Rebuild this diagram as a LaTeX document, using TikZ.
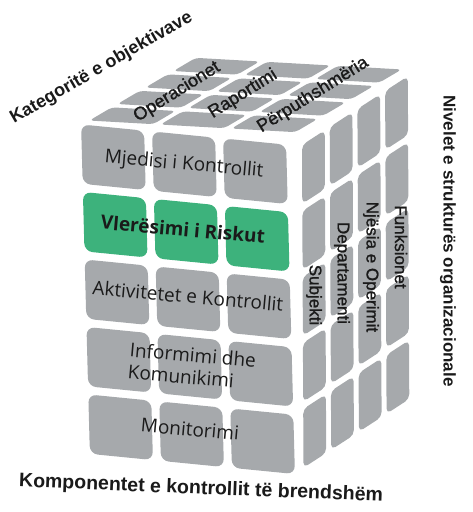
\documentclass[tikz,border=0pt]{standalone}
\usepackage{fontspec}
\setmainfont{Liberation Sans}
\newfontfamily\tilefont{Open Sans}
\newfontfamily\medfont[FakeBold=1.2]{Liberation Sans}
\definecolor{tilegray}{HTML}{A6A9AC}
\definecolor{tilegreen}{HTML}{3DB27C}
\definecolor{ink}{HTML}{1A1A1A}
\begin{document}
\begin{tikzpicture}[x=1pt,y=-1pt,
  fronttile/.style={fill=tilegray, rounded corners=8pt},
  greentile/.style={fill=tilegreen, rounded corners=8pt},
  toptile/.style={fill=tilegray, rounded corners=4pt},
  sidetile/.style={fill=tilegray, rounded corners=5pt},
  axislbl/.style={inner sep=0pt, text=ink, font=\bfseries\fontsize{18}{20}\selectfont},
  toplbl/.style={inner sep=0pt, text=ink, rotate=32, font=\medfont\fontsize{18}{20}\selectfont},
  sidelbl/.style={inner sep=0pt, text=ink, rotate=-90, font=\medfont\fontsize{17}{20}\selectfont},
  facelbl/.style={inner sep=0pt, text=ink, rotate=-5, align=left, font=\tilefont\fontsize{19}{22}\selectfont},
]
\useasboundingbox (0,0) rectangle (472,512);

% front face: 3 columns x 5 rows
\begin{scope}[shift={(77pt,-120pt)}, x={(71pt,-7pt)}, y={(1.8pt,-67.5pt)}]
  \foreach \j in {0,2,3,4} {
    \foreach \i in {0,1,2} {
      \fill[fronttile] (\i+0.056,\j+0.06) -- (\i+0.944,\j+0.06) -- (\i+0.944,\j+0.94) -- (\i+0.056,\j+0.94) -- cycle;
    }
  }
  \foreach \i in {0,1,2} {
    \fill[greentile] (\i+0.056,1.06) -- (\i+0.944,1.06) -- (\i+0.944,1.94) -- (\i+0.056,1.94) -- cycle;
  }
\end{scope}

% top face: 3 columns x 4 depth rows
\begin{scope}[shift={(83pt,-122pt)}, x={(71pt,-4pt)}, y={(28pt,16.5pt)}]
  \foreach \k in {0,1,2,3} {
    \foreach \i in {0,1,2} {
      \fill[toptile] (\i+0.05,\k+0.1) -- (\i+0.95,\k+0.1) -- (\i+0.95,\k+0.9) -- (\i+0.05,\k+0.9) -- cycle;
    }
  }
\end{scope}

% right face: 4 depth columns x 5 rows
\begin{scope}[shift={(299.5pt,-143pt)}, x={(27.7pt,18pt)}, y={(0.3pt,-66pt)}]
  \foreach \k in {0,1,2,3} {
    \foreach \j in {0,1,2,3,4} {
      \fill[sidetile] (\k+0.09,\j+0.055) -- (\k+0.91,\j+0.055) -- (\k+0.91,\j+0.945) -- (\k+0.09,\j+0.945) -- cycle;
    }
  }
\end{scope}

% axis labels
\node[axislbl, rotate=30, anchor=base west] (kat) at (14,124) {Kategoritë e objektivave};
\node[axislbl, rotate=-90, font=\bfseries\fontsize{17}{20}\selectfont] (niv) at (448,241) {Nivelet e strukturës organizacionale};
\node[axislbl, rotate=-2.3, font=\bfseries\fontsize{19.5}{22}\selectfont] (komp) at (201,489) {Komponentet e kontrollit të brendshëm};

% top labels
\node[toplbl] (op) at (177,92) {Operacionet};
\node[toplbl] (rap) at (243,94) {Raportimi};
\node[toplbl] (per) at (313,95) {Përputhshmëria};

% side labels
\node[sidelbl] (sub) at (314,295) {Subjekti};
\node[sidelbl] (dep) at (342,273) {Departamenti};
\node[sidelbl] (nje) at (371,267) {Njësia e Operimit};
\node[sidelbl] (fun) at (401,247) {Funksionet};

% front labels
\node[facelbl] (mje) at (184,165) {Mjedisi i Kontrollit};
\node[facelbl, font=\tilefont\bfseries\fontsize{19}{22}\selectfont] (vle) at (183,229) {Vlerësimi i Riskut};
\node[facelbl] (akt) at (188,296) {Aktivitetet e Kontrollit};
\node[facelbl] (inf) at (192,366) {Informimi dhe\\Komunikimi};
\node[facelbl] (mon) at (190,429) {Monitorimi};
\end{tikzpicture}
\end{document}
